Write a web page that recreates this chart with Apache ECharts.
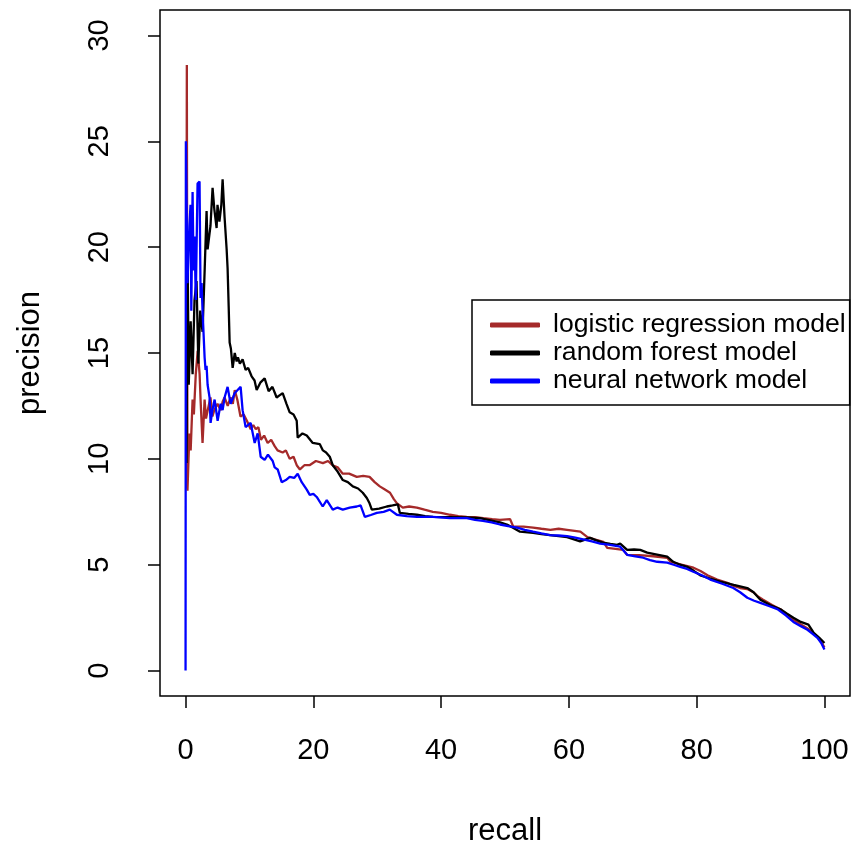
<!DOCTYPE html>
<html>
<head>
<meta charset="utf-8">
<script src="https://cdn.jsdelivr.net/npm/echarts@6/dist/echarts.min.js"></script>
<style>
html,body{margin:0;padding:0;background:#fff;}
#chart{width:853px;height:852px;}
</style>
</head>
<body>
<div id="chart"></div>
<script>
// ---- data (recall %, precision %) ----
var seriesNames = ['logistic regression model', 'random forest model', 'neural network model'];
var xTicks = [0, 20, 40, 60, 80, 100];
var yTicks = [0, 5, 10, 15, 20, 25, 30];

var logisticPR = [
  [0.1, 8.6], [0.2, 28.6], [0.3, 8.5], [0.6, 11.2], [0.8, 10.4], [1.1, 12.8], [1.3, 12.1], [1.6, 14.0],
  [1.9, 15.1], [2.2, 14.0], [2.35, 12.8], [2.66, 10.75], [2.98, 12.8], [3.2, 11.9], [3.4, 12.2],
  [3.9, 12.9], [4.2, 12.0], [4.5, 12.3], [5.0, 12.6], [5.5, 12.3], [5.8, 12.7], [6.1, 12.9],
  [6.6, 12.5], [7.05, 12.9], [7.4, 12.6], [7.7, 13.25], [8.1, 12.8], [8.6, 12.0], [9.1, 12.1],
  [9.6, 11.8], [10.2, 11.4], [10.6, 11.6], [11.0, 11.4], [11.4, 11.5], [11.8, 10.9], [12.3, 11.1],
  [12.85, 10.75], [13.4, 10.9], [13.95, 10.6], [14.4, 10.4], [15.2, 10.3], [15.7, 10.4], [16.3, 10.0],
  [16.9, 10.1], [17.4, 9.7], [17.9, 9.5], [18.6, 9.7], [19.4, 9.7], [20.4, 9.9], [21.5, 9.8],
  [22.3, 9.9], [23.0, 9.7], [23.8, 9.6], [24.6, 9.3], [25.6, 9.3], [26.8, 9.15], [27.8, 9.2],
  [28.8, 9.15], [29.6, 8.9], [30.4, 8.7], [31.2, 8.55], [32.0, 8.4], [32.6, 8.1], [33.1, 7.9],
  [34.0, 7.7], [35.0, 7.75], [36.2, 7.7], [37.4, 7.6], [38.7, 7.5], [40.0, 7.45], [41.4, 7.36],
  [42.7, 7.3], [44.0, 7.26], [45.3, 7.25], [46.6, 7.2], [48.0, 7.15], [49.2, 7.12], [50.8, 7.15],
  [51.3, 6.8], [52.9, 6.8], [54.4, 6.75], [55.7, 6.7], [57.1, 6.65], [58.4, 6.7], [59.7, 6.65],
  [61.8, 6.56], [62.9, 6.3], [64.0, 6.2], [65.4, 6.08], [66.0, 5.8], [67.3, 5.75], [68.5, 5.7],
  [69.1, 5.47], [71.0, 5.45], [73.2, 5.4], [75.4, 5.33], [75.9, 5.14], [77.6, 5.0], [79.5, 4.86],
  [80.6, 4.7], [81.7, 4.5], [83.2, 4.3], [84.8, 4.15], [85.8, 4.0], [86.8, 3.9], [87.9, 3.85],
  [88.9, 3.7], [89.6, 3.5], [90.4, 3.35], [91.8, 3.1], [93.1, 2.9], [94.1, 2.65], [95.1, 2.4],
  [96.2, 2.2], [97.3, 2.0], [98.1, 1.8], [98.9, 1.6], [99.5, 1.35], [100, 1.1]
];

var forestPR = [
  [0.15, 9.8], [0.31, 20.0], [0.5, 13.5], [0.8, 16.5], [1.1, 14.0], [1.4, 17.5], [1.72, 18.4],
  [2.0, 14.5], [2.3, 17.0], [2.66, 16.0], [3.0, 19.0], [3.29, 21.7], [3.45, 19.9], [3.9, 21.0],
  [4.23, 22.8], [4.5, 21.8], [4.86, 20.9], [5.0, 22.0], [5.3, 21.2], [5.6, 22.0], [5.8, 23.2],
  [6.11, 21.4], [6.43, 19.9], [6.58, 19.0], [6.75, 17.2], [6.9, 15.5], [7.1, 15.2], [7.37, 14.3],
  [7.7, 15.0], [8.0, 14.6], [8.2, 14.8], [8.5, 14.5], [8.93, 14.7], [9.4, 14.2], [9.8, 14.3],
  [10.34, 13.9], [10.8, 13.7], [11.13, 13.25], [11.7, 13.6], [12.38, 13.8], [13.0, 13.2],
  [13.6, 13.4], [14.26, 12.9], [14.7, 13.0], [15.2, 13.1], [15.8, 12.6], [16.3, 12.2], [16.9, 12.1],
  [17.4, 11.8], [17.55, 11.0], [18.3, 11.2], [18.97, 11.1], [19.5, 10.9], [19.91, 10.75],
  [21.0, 10.7], [21.5, 10.4], [22.0, 10.3], [22.57, 10.1], [23.04, 9.7], [23.8, 9.4], [24.61, 9.0],
  [25.4, 8.9], [26.18, 8.7], [27.0, 8.6], [27.74, 8.4], [28.37, 8.15], [28.8, 7.9], [29.15, 7.6],
  [30.3, 7.65], [31.5, 7.75], [32.4, 7.8], [33.23, 7.85], [33.54, 7.45], [34.9, 7.4], [36.21, 7.36],
  [37.5, 7.3], [38.71, 7.26], [41.4, 7.25], [44.04, 7.24], [46.08, 7.2], [47.7, 7.1], [49.22, 7.0],
  [50.3, 6.9], [51.25, 6.75], [52.35, 6.56], [54.39, 6.5], [55.7, 6.45], [57.05, 6.4], [58.4, 6.35],
  [59.72, 6.3], [60.8, 6.2], [61.76, 6.1], [63.32, 6.27], [64.3, 6.15], [65.36, 6.04], [66.5, 5.98],
  [67.55, 5.94], [68.03, 6.0], [69.12, 5.7], [70.2, 5.72], [71.16, 5.7], [72.26, 5.57], [73.8, 5.48],
  [75.39, 5.38], [76.33, 5.14], [77.4, 5.0], [78.53, 4.9], [79.6, 4.7], [80.56, 4.5], [82.1, 4.35],
  [83.7, 4.2], [85.8, 4.05], [87.93, 3.9], [88.9, 3.7], [89.97, 3.35], [91.5, 3.1], [93.1, 2.9],
  [94.1, 2.7], [95.14, 2.5], [96.3, 2.3], [97.49, 2.17], [98.28, 1.8], [99.2, 1.55], [100, 1.3]
];

var neuralPR = [
  [0.0, 0.0], [0.05, 25.0], [0.3, 18.3], [0.6, 21.0], [0.78, 22.0], [0.9, 17.0], [1.1, 22.6],
  [1.25, 18.9], [1.41, 20.5], [1.6, 17.5], [1.88, 23.0], [2.19, 23.1], [2.35, 17.6], [2.51, 18.3],
  [2.66, 17.0], [2.98, 14.8], [3.13, 14.2], [3.29, 14.4], [3.45, 13.5], [3.76, 12.9], [3.92, 11.7],
  [4.2, 12.3], [4.55, 12.8], [5.02, 11.8], [5.49, 12.6], [5.8, 12.3], [6.11, 12.9], [6.58, 13.4],
  [7.05, 12.6], [7.68, 13.1], [8.15, 13.25], [8.62, 13.4], [8.93, 12.3], [9.4, 11.5], [10.19, 11.7],
  [10.82, 10.75], [11.29, 11.2], [11.76, 10.1], [12.38, 9.95], [12.9, 10.2], [13.64, 9.9],
  [13.95, 9.6], [14.42, 9.5], [15.05, 8.9], [15.7, 9.0], [16.3, 9.15], [17.0, 9.1], [17.55, 9.3],
  [18.18, 8.9], [18.97, 8.55], [19.44, 8.3], [20.0, 8.35], [20.53, 8.2], [21.47, 7.75], [22.1, 8.05],
  [23.04, 7.6], [23.8, 7.7], [24.61, 7.6], [25.7, 7.7], [26.8, 7.75], [27.4, 7.8], [28.06, 7.26],
  [29.0, 7.35], [29.94, 7.45], [31.0, 7.5], [31.97, 7.6], [33.07, 7.36], [34.6, 7.3], [36.21, 7.26],
  [38.71, 7.26], [41.38, 7.2], [44.04, 7.2], [45.3, 7.12], [46.55, 7.07], [47.9, 7.0], [49.22, 6.9],
  [50.5, 6.82], [51.88, 6.75], [53.1, 6.65], [54.39, 6.56], [55.7, 6.48], [57.05, 6.4], [58.4, 6.38],
  [59.72, 6.35], [61.0, 6.28], [62.23, 6.2], [63.6, 6.1], [64.89, 6.0], [66.46, 5.94], [68.03, 5.85],
  [69.12, 5.47], [70.4, 5.4], [71.63, 5.33], [72.7, 5.22], [73.82, 5.14], [75.39, 5.1], [76.4, 5.0],
  [77.43, 4.9], [78.5, 4.8], [79.47, 4.67], [80.8, 4.5], [82.13, 4.3], [84.0, 4.1], [85.74, 3.9],
  [86.8, 3.7], [87.93, 3.44], [89.0, 3.3], [89.97, 3.2], [91.3, 3.05], [92.63, 2.9], [94.0, 2.6],
  [95.14, 2.3], [96.3, 2.1], [97.34, 1.93], [98.1, 1.75], [98.9, 1.55], [99.5, 1.3], [100, 1.0]
];

var colors = ['#A52A2A', '#000000', '#0000FF'];
var font = 'Liberation Sans, Arial, Helvetica, sans-serif';

var chart = echarts.init(document.getElementById('chart'), null, {renderer: 'canvas'});
var dataSets = [logisticPR, forestPR, neuralPR];

chart.setOption({
  animation: false,
  backgroundColor: '#ffffff',
  textStyle: {fontFamily: font},
  grid: {
    left: 160, top: 10, width: 690, height: 687,
    show: true, borderColor: '#000', borderWidth: 1.5, backgroundColor: 'transparent'
  },
  legend: {
    orient: 'vertical',
    left: 472, top: 300,
    data: seriesNames,
    backgroundColor: '#fff',
    borderColor: '#000', borderWidth: 1.5,
    padding: [11, 4, 10, 18],
    itemGap: 0,
    itemWidth: 50, itemHeight: 5,
    icon: 'roundRect',
    textStyle: {fontSize: 26.6, color: '#000', lineHeight: 28, fontFamily: font, padding: [0, 0, 0, 8]}
  },
  xAxis: {
    type: 'value', min: -4, max: 104,
    name: 'recall', nameLocation: 'middle', nameGap: 120,
    nameTextStyle: {fontSize: 31, color: '#000', fontFamily: font},
    axisLine: {show: false, onZero: false},
    splitLine: {show: false},
    axisTick: {show: true, inside: false, length: 12, lineStyle: {color: '#000', width: 1.5}, customValues: xTicks},
    axisLabel: {show: true, fontSize: 29, color: '#000', margin: 40, fontFamily: font, customValues: xTicks}
  },
  yAxis: {
    type: 'value', min: -1.2, max: 31.2,
    name: 'precision', nameLocation: 'middle', nameGap: 114, nameRotate: 90,
    nameTextStyle: {fontSize: 31, color: '#000', fontFamily: font},
    axisLine: {show: false, onZero: false},
    splitLine: {show: false},
    axisTick: {show: true, inside: false, length: 12, lineStyle: {color: '#000', width: 1.5}, customValues: yTicks},
    axisLabel: {show: true, fontSize: 29, color: '#000', margin: 46, rotate: 90, fontFamily: font, customValues: yTicks}
  },
  series: dataSets.map(function (d, i) {
    return {
      name: seriesNames[i],
      type: 'line',
      data: d,
      showSymbol: false,
      symbol: 'none',
      lineStyle: {color: colors[i], width: 2.3},
      itemStyle: {color: colors[i]},
      z: 2 + i
    };
  })
});
</script>
</body>
</html>
